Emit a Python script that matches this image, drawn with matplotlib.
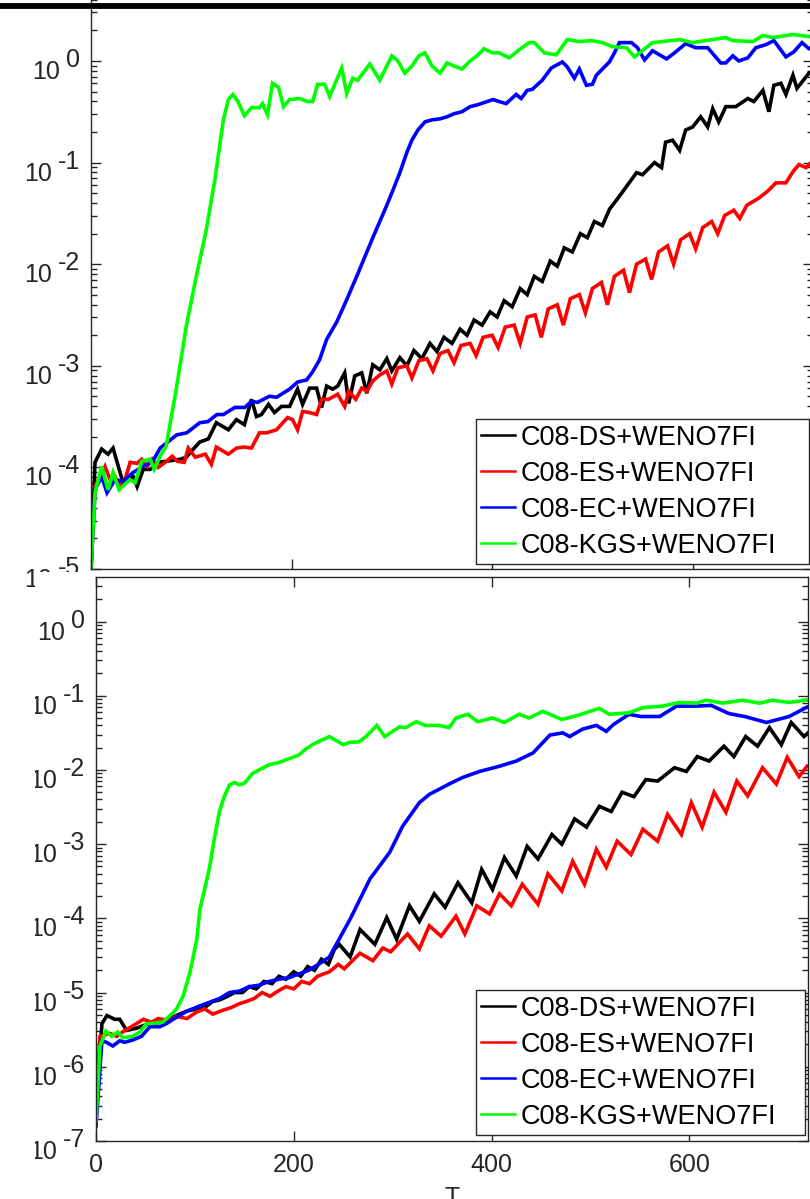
import numpy as np
import matplotlib
matplotlib.use("Agg")
import matplotlib.pyplot as plt
from matplotlib.lines import Line2D
from matplotlib.patches import Rectangle
from matplotlib.transforms import Bbox
from matplotlib.ticker import LogLocator, NullFormatter, FixedLocator

plt.rcParams['font.family'] = ['Liberation Sans', 'DejaVu Sans']

# ---------------- data (T, log10 of value) ----------------
labels = ["C08-DS+WENO7FI", "C08-ES+WENO7FI", "C08-EC+WENO7FI", "C08-KGS+WENO7FI"]
colors = ["#000000", "#ff0000", "#0000ff", "#00ff00"]

# top panel
t_top_ds = [0, 4, 10.6, 17, 22, 31, 37, 42, 46, 52, 59, 67, 75, 89, 95, 102, 108.5, 117, 125, 137, 145, 153, 160, 165,
            170, 177, 183, 190, 198, 206, 211, 218, 225, 230, 235, 241, 246, 253, 257, 263, 270, 275, 281, 288,
            295, 300, 308, 315, 322, 330, 338, 345, 352, 360, 368, 375, 382, 390, 398, 405, 412, 420, 428, 435,
            442, 450, 458, 465, 472, 480, 488, 495, 502, 510, 517, 524, 530, 544, 550, 562, 569, 573, 580, 587,
            593, 600, 608, 615, 620, 626, 633, 643, 655, 661, 670, 676, 681, 688, 693, 700, 704, 716, 720]
e_top_ds = [-5.0, -3.95, -3.82, -3.87, -3.81, -4.12, -4.12, -4.09, -4.19, -4.02, -4.02, -3.95, -3.94, -3.92, -3.9,
            -3.82, -3.75, -3.72, -3.56, -3.63, -3.53, -3.58, -3.33, -3.5, -3.48, -3.38, -3.46, -3.4, -3.4, -3.23,
            -3.38, -3.22, -3.22, -3.41, -3.2, -3.23, -3.2, -3.07, -3.37, -3.1, -3.07, -3.27, -2.99, -3.04,
            -2.93, -3.05, -2.92, -3.0, -2.85, -2.93, -2.78, -2.86, -2.72, -2.78, -2.64, -2.7, -2.55, -2.6, -2.47,
            -2.52, -2.36, -2.42, -2.24, -2.3, -2.12, -2.17, -1.97, -2.02, -1.84, -1.88, -1.7, -1.74, -1.58, -1.62,
            -1.46, -1.37, -1.29, -1.1, -1.12, -1.0, -1.05, -0.8, -0.78, -0.88, -0.68, -0.65, -0.55, -0.65, -0.47,
            -0.6, -0.45, -0.45, -0.37, -0.4, -0.29, -0.5, -0.24, -0.22, -0.33, -0.14, -0.27, -0.12, -0.1]

t_top_es = [0, 4, 14, 19, 24, 29, 34, 39, 46, 50.5, 56, 61, 67, 74, 81, 86, 93, 97, 104, 114, 120, 125, 137, 145, 153,
            160, 168, 175, 185, 196, 201, 206, 211, 218, 225, 230, 237, 246, 253, 257, 264, 270, 275, 281, 288,
            295, 300, 306, 315, 320, 327, 335, 341, 348, 356, 362, 369, 378, 384, 391, 400, 406, 413, 422, 428,
            435, 443, 449, 456, 465, 471, 478, 487, 493, 500, 509, 515, 522, 531, 537, 544, 553, 559, 566, 575,
            581, 588, 597, 603, 610, 619, 625, 632, 641, 647, 654, 666, 675, 683, 693, 700, 706, 713, 720]
e_top_es = [-5.0, -4.19, -3.99, -4.12, -4.09, -4.19, -4.12, -3.95, -3.96, -3.92, -3.99, -3.92, -4.0, -3.95, -3.89,
            -3.94, -3.95, -3.81, -3.9, -3.87, -3.97, -3.8, -3.87, -3.81, -3.8, -3.81, -3.66, -3.66, -3.63, -3.51,
            -3.53, -3.63, -3.45, -3.46, -3.48, -3.33, -3.33, -3.28, -3.4, -3.25, -3.33, -3.22, -3.25, -3.15, -3.09,
            -3.05, -3.18, -3.02, -3.0, -3.12, -2.95, -2.93, -3.05, -2.88, -2.85, -2.97, -2.8, -2.78, -2.9, -2.72,
            -2.7, -2.82, -2.62, -2.6, -2.78, -2.52, -2.5, -2.72, -2.44, -2.4, -2.6, -2.34, -2.3, -2.48, -2.24,
            -2.18, -2.4, -2.12, -2.06, -2.28, -2.0, -1.95, -2.15, -1.88, -1.82, -2.0, -1.76, -1.7, -1.85, -1.64,
            -1.58, -1.7, -1.52, -1.47, -1.55, -1.42, -1.35, -1.28, -1.2, -1.2, -1.09, -1.02, -1.05, -0.98]

t_top_ec = [0, 4, 10.6, 16, 24, 32, 42, 52, 61, 69, 85.5, 95.5, 108.5, 116.5, 125.5, 132, 143.5, 153.5, 160, 166,
            178, 185, 198, 206, 215, 221, 228, 235, 245, 255, 265, 273, 281, 288, 295, 302, 308, 315, 320, 326,
            333, 340, 348, 355, 362, 370, 378, 386, 395, 401, 407, 414, 424, 429, 435, 440, 450, 459, 470, 475,
            482, 487, 494, 500, 504, 517, 522, 527, 539, 545, 552, 560, 574, 582, 593, 603, 615, 628, 633, 640,
            646, 655, 663, 673, 681, 693, 701, 709, 716, 720]
e_top_ec = [-5.0, -4.22, -4.09, -4.25, -4.12, -4.14, -4.05, -3.99, -3.95, -3.81, -3.68, -3.66, -3.56, -3.55, -3.48,
            -3.48, -3.41, -3.41, -3.35, -3.36, -3.3, -3.31, -3.23, -3.16, -3.14, -3.06, -2.94, -2.74, -2.57, -2.35,
            -2.12, -1.93, -1.74, -1.58, -1.42, -1.25, -1.1, -0.9, -0.78, -0.68, -0.6, -0.58, -0.57, -0.55, -0.52,
            -0.5, -0.45, -0.43, -0.4, -0.38, -0.4, -0.42, -0.33, -0.37, -0.29, -0.28, -0.19, -0.07, -0.01, -0.06,
            -0.17, -0.08, -0.24, -0.23, -0.14, -0.01, 0.08, 0.18, 0.18, 0.13, 0.01, 0.1, 0.02, 0.08, 0.17, 0.13,
            0.13, -0.02, -0.02, 0.05, 0.0, 0.03, 0.13, 0.16, 0.2, 0.04, 0.09, 0.18, 0.12, 0.14]

t_top_kgs = [0, 4, 10.6, 17, 22, 28, 39, 44, 50.5, 59, 63, 69, 75, 85, 95, 105, 115, 123.5, 132, 137, 141.5, 146.5,
             153, 160, 168, 171, 176, 181, 187, 192, 198, 208, 216, 221, 226, 233, 238, 250, 255, 261, 266, 278,
             288, 295, 300, 306, 313, 320, 327, 333, 340, 348, 355, 362, 370, 378, 385, 392, 400, 407, 417, 427,
             437, 442, 452, 464, 475, 487, 499, 510, 520, 534, 542, 560, 570, 587, 600, 613, 633, 640, 660, 670,
             680, 700, 716, 720]
e_top_kgs = [-5.0, -4.25, -3.99, -4.22, -4.05, -4.22, -4.12, -4.15, -3.94, -3.92, -4.02, -3.89, -3.79, -3.23, -2.61,
             -2.12, -1.66, -1.17, -0.58, -0.38, -0.33, -0.4, -0.54, -0.46, -0.46, -0.42, -0.53, -0.22, -0.26, -0.45,
             -0.38, -0.37, -0.4, -0.4, -0.23, -0.23, -0.35, -0.07, -0.32, -0.17, -0.19, -0.03, -0.19, -0.05, 0.05,
             0.0, -0.12, -0.05, 0.05, 0.08, -0.05, -0.12, -0.02, -0.05, -0.08, 0.0, 0.05, 0.12, 0.08, 0.08, 0.03,
             0.11, 0.18, 0.18, 0.08, 0.06, 0.21, 0.19, 0.2, 0.18, 0.14, 0.13, 0.04, 0.18, 0.19, 0.21, 0.18, 0.2,
             0.23, 0.2, 0.19, 0.25, 0.23, 0.26, 0.24, 0.24]

# bottom panel
t_bot_ds = [0, 6, 11, 19, 24, 31, 41, 51, 61, 71, 81, 92, 102, 110, 118, 125, 133, 140, 148, 155, 162, 170, 178,
            185, 192, 200, 207, 214, 221, 228, 235, 241, 246, 257, 267, 282, 294, 304, 317, 327, 342, 353, 366,
            380, 390, 401, 413, 425, 436, 447, 461, 471, 484, 496, 509, 521, 532, 544, 556, 568, 585, 597, 608,
            620, 635, 645, 657, 669, 681, 693, 703, 716, 720]
e_bot_ds = [-6.61, -5.42, -5.31, -5.36, -5.36, -5.51, -5.48, -5.43, -5.41, -5.38, -5.31, -5.25, -5.22, -5.2, -5.12,
            -5.1, -5.05, -5.0, -5.0, -4.92, -4.95, -4.85, -4.88, -4.78, -4.82, -4.72, -4.78, -4.65, -4.7, -4.55,
            -4.62, -4.42, -4.35, -4.52, -4.15, -4.35, -3.99, -4.28, -3.83, -4.04, -3.67, -3.85, -3.52, -3.79,
            -3.34, -3.61, -3.18, -3.43, -3.03, -3.2, -2.87, -3.0, -2.66, -2.77, -2.49, -2.56, -2.3, -2.36, -2.13,
            -2.15, -1.97, -2.02, -1.82, -1.88, -1.68, -1.82, -1.55, -1.68, -1.43, -1.66, -1.36, -1.55, -1.5]

t_bot_es = [0, 4, 14, 21, 27, 37, 48, 56, 63, 75, 81, 92, 102, 110, 118, 128, 137, 145, 152, 160, 168, 176, 184,
            192, 200, 208, 216, 224, 230, 236, 245, 251, 267, 280, 290, 298, 315, 327, 337, 349, 364, 373, 385,
            398, 408, 420, 431, 447, 457, 471, 482, 494, 506, 516, 527, 541, 553, 568, 578, 592, 602, 613, 625,
            637, 648, 659, 674, 688, 699, 711, 719]
e_bot_es = [-6.47, -5.59, -5.55, -5.59, -5.53, -5.45, -5.36, -5.4, -5.35, -5.38, -5.32, -5.35, -5.26, -5.22, -5.29,
            -5.24, -5.2, -5.15, -5.12, -5.08, -5.0, -5.05, -4.98, -4.92, -4.95, -4.85, -4.88, -4.78, -4.75, -4.72,
            -4.62, -4.68, -4.47, -4.57, -4.4, -4.45, -4.21, -4.41, -4.1, -4.24, -3.97, -4.21, -3.83, -3.94, -3.67,
            -3.83, -3.54, -3.81, -3.4, -3.63, -3.23, -3.54, -3.07, -3.31, -2.96, -3.14, -2.8, -2.96, -2.6, -2.87,
            -2.44, -2.77, -2.3, -2.57, -2.15, -2.35, -1.97, -2.19, -1.83, -2.09, -1.95]

t_bot_ec = [0, 6, 10.5, 17, 24, 29, 37, 46, 54.5, 64.5, 71, 78, 92, 105, 115, 125, 135, 145, 155, 165, 175, 185,
            195, 205, 215, 225, 236, 257, 277, 297, 310, 327, 337, 357, 371, 388, 408, 425, 442, 459, 472, 479,
            492, 506, 516, 523, 539, 551, 570, 587, 607, 622, 640, 656, 678, 701, 718, 720]
e_bot_ec = [-6.8, -5.65, -5.67, -5.72, -5.65, -5.67, -5.64, -5.59, -5.46, -5.46, -5.42, -5.36, -5.25, -5.18, -5.13,
            -5.08, -5.0, -4.98, -4.92, -4.9, -4.85, -4.82, -4.8, -4.75, -4.7, -4.62, -4.52, -4.01, -3.47, -3.11,
            -2.76, -2.44, -2.33, -2.19, -2.1, -2.02, -1.95, -1.88, -1.77, -1.53, -1.5, -1.55, -1.45, -1.4, -1.48,
            -1.39, -1.25, -1.28, -1.28, -1.14, -1.14, -1.13, -1.24, -1.28, -1.36, -1.28, -1.16, -1.15]

t_bot_kgs = [0, 4, 10, 16, 22, 27, 37, 44.5, 51, 61, 67, 75, 81.5, 88, 95, 102, 105, 110, 115, 120, 125, 130, 135,
             140, 145, 150, 158, 165, 175, 185, 195, 205, 212, 220, 228, 236, 250, 256, 266, 273, 284, 292, 307,
             313, 324, 333, 347, 357, 364, 376, 386, 401, 413, 428, 438, 452, 471, 486, 509, 519, 539, 553, 573,
             590, 607, 617, 634, 654, 671, 684, 701, 718, 720]
e_bot_kgs = [-6.73, -5.72, -5.52, -5.59, -5.53, -5.61, -5.59, -5.53, -5.42, -5.41, -5.4, -5.31, -5.22, -5.05, -4.73,
             -4.28, -3.88, -3.6, -3.3, -2.9, -2.55, -2.35, -2.2, -2.17, -2.2, -2.18, -2.05, -2.0, -1.93, -1.9, -1.85,
             -1.8, -1.72, -1.65, -1.6, -1.55, -1.66, -1.63, -1.62, -1.55, -1.4, -1.55, -1.42, -1.43, -1.35, -1.4,
             -1.4, -1.43, -1.3, -1.25, -1.35, -1.3, -1.36, -1.25, -1.3, -1.21, -1.32, -1.27, -1.17, -1.25, -1.23,
             -1.16, -1.14, -1.09, -1.1, -1.06, -1.1, -1.06, -1.1, -1.06, -1.09, -1.06, -1.06]

x_ticks = [0, 200, 400, 600]
x_tick_labels = ["0", "200", "400", "600"]
top_decades = [0, -1, -2, -3, -4, -5]
bot_decades = [0, -1, -2, -3, -4, -5, -6, -7]

# ---------------- figure ----------------
W, H = 810, 1199
fig = plt.figure(figsize=(W / 100, H / 100), dpi=100)

def px_axes(left, top, right, bottom):
    return fig.add_axes([left / W, 1 - bottom / H, (right - left) / W, (bottom - top) / H])

SPINE = "#262626"
TICK_FS = 18
LEG_FS = 19.5
LW = 2.6

ax_top = px_axes(91, -40.7, 813, 569)
ax_bot = px_axes(96, 577, 808, 1141)
ax_top.set_zorder(1)
ax_bot.set_zorder(3)

# white panel on which the lower plot sits (covers the bottom of the upper one)
cover = Rectangle((35 / W, 0), 1 - 35 / W, 1 - 572 / H, transform=fig.transFigure,
                  facecolor="white", edgecolor="none", zorder=2)
fig.patches.append(cover)

# thick black line at the very top
fig.add_artist(Line2D([0, 1], [1 - 5.5 / H, 1 - 5.5 / H], transform=fig.transFigure,
                      color="black", lw=4.2, zorder=5))

top_series = [(t_top_ds, e_top_ds), (t_top_es, e_top_es), (t_top_ec, e_top_ec), (t_top_kgs, e_top_kgs)]
bot_series = [(t_bot_ds, e_bot_ds), (t_bot_es, e_bot_es), (t_bot_ec, e_bot_ec), (t_bot_kgs, e_bot_kgs)]

clip_bbox = Bbox.from_extents(35, 0, W, H - 572)

def style_axes(ax, ylim, decades, show_xlabels, clip=None):
    ax.set_yscale("log")
    ax.set_xlim(0, 720)
    ax.set_ylim(*ylim)
    for s in ax.spines.values():
        s.set_color(SPINE)
        s.set_linewidth(1.0)
    ax.set_xticks(x_ticks)
    if show_xlabels:
        ax.set_xticklabels(x_tick_labels)
    else:
        ax.set_xticklabels([])
    ax.yaxis.set_major_locator(FixedLocator([10.0 ** d for d in decades]))
    ax.yaxis.set_minor_locator(LogLocator(base=10, subs=np.arange(2, 10), numticks=30))
    ax.yaxis.set_major_formatter(NullFormatter())
    ax.yaxis.set_minor_formatter(NullFormatter())
    ax.tick_params(which="both", direction="in", top=True, right=True, color=SPINE,
                   labelsize=TICK_FS, labelcolor=SPINE, width=1.0, pad=9)
    ax.tick_params(which="major", length=7)
    ax.tick_params(which="minor", length=4)
    # MATLAB-style "10 ^e" labels with equal-size exponent
    for d in decades:
        ex = ax.annotate(f"{d}", xy=(0, 10.0 ** d), xycoords=ax.get_yaxis_transform(),
                         xytext=(-11, -6), textcoords="offset pixels", ha="right", va="baseline",
                         fontsize=TICK_FS, color=SPINE, annotation_clip=False)
        base = ax.annotate("10", xy=(0, 0), xycoords=ex, xytext=(-6, -7), textcoords="offset pixels",
                           ha="right", va="baseline", fontsize=TICK_FS, color=SPINE, annotation_clip=False)
        if clip is not None:
            for t in (ex, base):
                t.set_clip_box(clip)
                t.set_clip_on(True)

legend_boxes = {
    "top": (476, 413, 809, 564),
    "bot": (476, 986, 805, 1135),
}

for key, ax, series, ylim, decades, showx, clip in [
        ("top", ax_top, top_series, (1e-5, 10.0), top_decades, False, None),
        ("bot", ax_bot, bot_series, (1e-7, 10 ** 0.6), bot_decades, True, clip_bbox)]:
    for (t, e), c, lab in zip(series, colors, labels):
        ax.plot(t, 10.0 ** np.asarray(e), color=c, lw=LW, label=lab, solid_joinstyle="miter")
    style_axes(ax, ylim, decades, showx, clip)
    leg_handles = [Line2D([], [], color=c, lw=1.8) for c in colors]
    l, tp, r, b = legend_boxes[key]
    leg = ax.legend(leg_handles, labels, loc="lower left", mode="expand", fontsize=LEG_FS, frameon=True,
                    fancybox=False, edgecolor=SPINE, framealpha=1, handlelength=1.25, handletextpad=0.2,
                    labelspacing=0.37, borderpad=0.2, borderaxespad=0.0,
                    bbox_to_anchor=(l / W, 1 - b / H, (r - l) / W, (b - tp) / H),
                    bbox_transform=fig.transFigure)
    leg.get_frame().set_linewidth(1.0)

ax_bot.set_xlabel("T", fontsize=TICK_FS, color=SPINE, labelpad=6)

fig.savefig("out.png", dpi=100)
